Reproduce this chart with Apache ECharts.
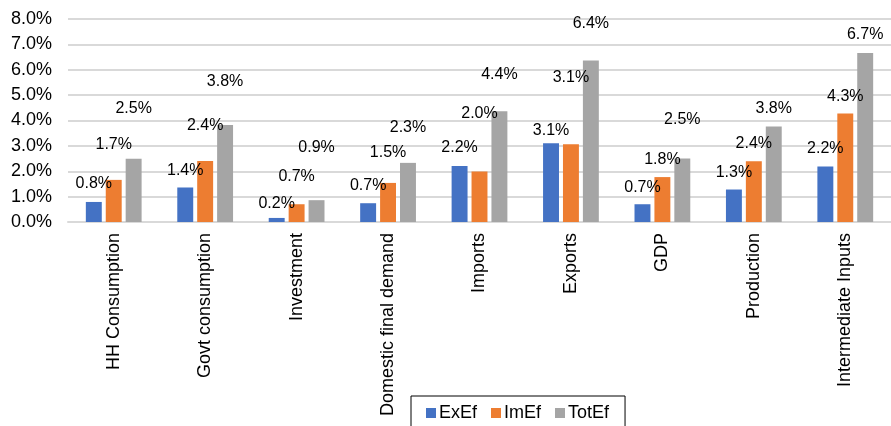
<!DOCTYPE html>
<html>
<head>
<meta charset="utf-8">
<script src="https://cdn.jsdelivr.net/npm/echarts@6/dist/echarts.min.js"></script>
<style>
html,body{margin:0;padding:0;background:#fff;}
#chart{width:891px;height:426px;}
</style>
</head>
<body>
<div id="chart"></div>
<script>
var categories = ["HH Consumption","Govt consumption","Investment","Domestic final demand","Imports","Exports","GDP","Production","Intermediate Inputs"];
var seriesNames = ["ExEf","ImEf","TotEf"];
var exEf  = [0.79, 1.36, 0.16, 0.74, 2.21, 3.10, 0.70, 1.28, 2.19];
var imEf  = [1.66, 2.40, 0.70, 1.54, 1.99, 3.06, 1.77, 2.39, 4.28];
var totEf = [2.49, 3.82, 0.86, 2.33, 4.36, 6.36, 2.50, 3.76, 6.66];
var yTicks = [0,1,2,3,4,5,6,7,8];

// label distances above bar tops (pixels), as placed in the original
var exLabelDist  = [10, 9, 6, 10, 10, 5, 9, 9, 10];
var imLabelDist  = [27, 28, 20, 22, 50, 59, 9, 10, 9];
var totLabelDist = [42, 35, 45, 27, 29, 29, 31, 10, 10];

var colors = ["#4472C4","#ED7D31","#A5A5A5"];
var FONT = "Liberation Sans, Arial, sans-serif";

function build(values, dists){
  return values.map(function(v,i){
    return {value: v, label: {distance: dists[i]}};
  });
}
function mkSeries(name, values, dists, color){
  return {
    name: name, type: 'bar',
    data: build(values, dists),
    itemStyle: {color: color},
    barGap: '25%', barCategoryGap: '39%',
    label: {
      show: true, position: 'top',
      fontFamily: FONT, fontSize: 16, color: '#000',
      formatter: function(p){ return p.value.toFixed(1) + '%'; }
    },
    emphasis: {disabled: true}
  };
}

var chart = echarts.init(document.getElementById('chart'));
chart.setOption({
  animation: false,
  backgroundColor: '#fff',
  textStyle: {fontFamily: FONT},
  grid: {left: 68, right: -9, top: 19, bottom: 204, containLabel: false},
  legend: {
    data: seriesNames,
    left: 411, top: 396,
    orient: 'horizontal',
    icon: 'rect', itemWidth: 10, itemHeight: 10, itemGap: 14,
    padding: [8, 16, 20, 15],
    borderColor: '#000', borderWidth: 1,
    textStyle: {fontFamily: FONT, fontSize: 18, color: '#000', padding: [0,0,0,-2]}
  },
  xAxis: {
    type: 'category', data: categories,
    axisLine: {show: true, lineStyle: {color: '#d9d9d9', width: 2}},
    axisTick: {show: false},
    axisLabel: {rotate: 90, interval: 0, margin: 11, fontFamily: FONT, fontSize: 18, color: '#000'}
  },
  yAxis: {
    type: 'value', min: yTicks[0], max: yTicks[yTicks.length-1], interval: 1,
    axisLine: {show: false}, axisTick: {show: false},
    splitLine: {lineStyle: {color: '#d9d9d9', width: 2}},
    axisLabel: {margin: 16, fontFamily: FONT, fontSize: 18, color: '#000',
      formatter: function(v){ return v.toFixed(1) + '%'; }}
  },
  series: [
    mkSeries(seriesNames[0], exEf, exLabelDist, colors[0]),
    mkSeries(seriesNames[1], imEf, imLabelDist, colors[1]),
    mkSeries(seriesNames[2], totEf, totLabelDist, colors[2])
  ]
});
</script>
</body>
</html>
